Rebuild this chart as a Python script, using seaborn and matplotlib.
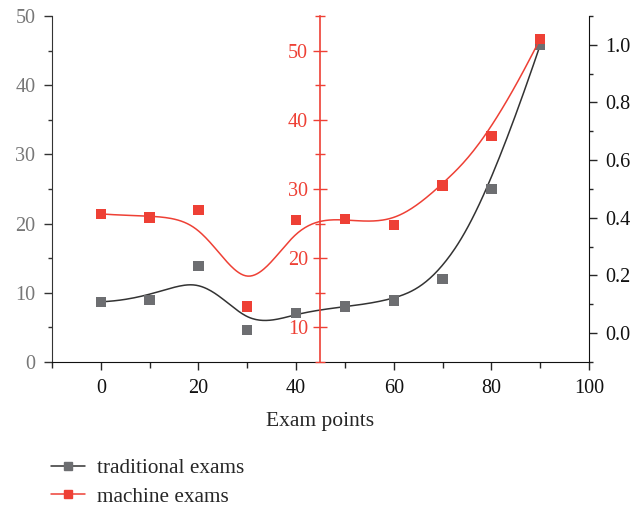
import numpy as np
import pandas as pd
import matplotlib
matplotlib.use("Agg")
import matplotlib.pyplot as plt
from matplotlib.lines import Line2D
from matplotlib.ticker import MultipleLocator, FormatStrFormatter
import seaborn as sns

# values
exam_points = [0, 10, 20, 30, 40, 50, 60, 70, 80, 90]
traditional = [8.7, 9.0, 13.9, 4.6, 7.1, 8.0, 8.9, 12.0, 25.0, 45.8]
machine = [26.4, 25.9, 27.0, 13.0, 25.5, 25.7, 24.8, 30.5, 37.7, 51.7]

GRAY = "#6d6e71"
GRAY_LINE = "#333333"
RED = "#ee4035"


def bspline(xs, ys, n=300):
    # clamped uniform cubic B-spline with the data as control points
    p = np.column_stack([xs, ys]).astype(float)
    m = len(p)
    knots = np.concatenate([[0] * 4, np.arange(1, m - 3), [m - 3] * 4]).astype(float)

    def basis(i, k, t):
        if k == 0:
            if knots[i] <= t < knots[i + 1] or (t == knots[-1] and knots[i] < t <= knots[i + 1]):
                return 1.0
            return 0.0
        a = 0.0
        d1 = knots[i + k] - knots[i]
        if d1 > 0:
            a += (t - knots[i]) / d1 * basis(i, k - 1, t)
        d2 = knots[i + k + 1] - knots[i + 1]
        if d2 > 0:
            a += (knots[i + k + 1] - t) / d2 * basis(i + 1, k - 1, t)
        return a

    ts = np.linspace(0, m - 3, n)
    out = np.array([sum(basis(i, 3, t) * p[i] for i in range(m)) for t in ts])
    return out[:, 0], out[:, 1]


sns.set_style("ticks")
plt.rcParams["font.family"] = ["Liberation Serif", "DejaVu Serif"]

fig = plt.figure(figsize=(6.44, 5.09), dpi=100)
ax = fig.add_axes([0.0807, 0.2888, 0.8339, 0.6798])
ax_red = ax.twinx()
ax_right = ax.twinx()

# traditional exams on the left axis
tx, ty = bspline(exam_points, traditional)
sns.lineplot(x=tx, y=ty, ax=ax, color=GRAY_LINE, lw=1.1, sort=False)
sns.scatterplot(x=exam_points, y=traditional, ax=ax, marker="s", s=55, color=GRAY,
                edgecolor="none", zorder=5)

# machine exams on the floating red axis
mx, my = bspline(exam_points, machine)
sns.lineplot(x=mx, y=my, ax=ax_red, color=RED, lw=1.1, sort=False)
sns.scatterplot(x=exam_points, y=machine, ax=ax_red, marker="s", s=55, color=RED,
                edgecolor="none", zorder=5)

ax.set_xlim(-10, 100)
ax.set_ylim(0, 50)
ax_red.set_ylim(5, 55)
ax_right.set_ylim(-0.1, 1.1)

FS = 14.5

# left axis
ax.spines["top"].set_visible(False)
ax.spines["right"].set_visible(False)
ax.spines["left"].set_color("#333333")
ax.spines["bottom"].set_color("#111111")
ax.xaxis.set_major_locator(MultipleLocator(20))
ax.xaxis.set_minor_locator(MultipleLocator(10))
ax.yaxis.set_major_locator(MultipleLocator(10))
ax.yaxis.set_minor_locator(MultipleLocator(5))
ax.tick_params(axis="y", which="major", length=6, width=1, color="#333333",
               labelcolor="#777777", labelsize=FS, pad=6)
ax.tick_params(axis="y", which="minor", length=3, width=1, color="#333333")
ax.tick_params(axis="x", which="major", length=6, width=1, labelsize=FS,
               labelcolor="#111111", pad=6)
ax.tick_params(axis="x", which="minor", length=4, width=1)
ax.set_xlabel("Exam points", fontsize=15.5, labelpad=10)
ax.set_ylabel("")

# red floating axis at x = 45
for s in ["top", "right", "bottom"]:
    ax_red.spines[s].set_visible(False)
ax_red.spines["left"].set_visible(True)
ax_red.spines["left"].set_position(("data", 45))
ax_red.spines["left"].set_color(RED)
ax_red.spines["left"].set_linewidth(1.2)
ax_red.yaxis.set_ticks_position("left")
ax_red.yaxis.set_label_position("left")
ax_red.yaxis.set_minor_locator(MultipleLocator(5))
ax_red.set_yticks([10, 20, 30, 40, 50])
ax_red.tick_params(axis="y", which="major", direction="inout", length=10, width=1,
                   color=RED, labelcolor=RED, labelsize=FS, pad=4)
ax_red.tick_params(axis="y", which="minor", direction="inout", length=7, width=1, color=RED)
ax_red.set_ylabel("")

# right axis
for s in ["top", "left", "bottom"]:
    ax_right.spines[s].set_visible(False)
ax_right.spines["right"].set_color("#111111")
ax_right.yaxis.set_major_locator(MultipleLocator(0.2))
ax_right.yaxis.set_minor_locator(MultipleLocator(0.1))
ax_right.yaxis.set_major_formatter(FormatStrFormatter("%.1f"))
ax_right.tick_params(axis="y", which="major", length=6, width=1, labelsize=FS,
                     labelcolor="#111111", pad=6)
ax_right.tick_params(axis="y", which="minor", length=3, width=1)

handles = [
    Line2D([], [], color=GRAY_LINE, lw=1.1, marker="s", markersize=6,
           markerfacecolor=GRAY, markeredgecolor=GRAY),
    Line2D([], [], color=RED, lw=1.1, marker="s", markersize=6,
           markerfacecolor=RED, markeredgecolor=RED),
]
fig.legend(handles, ["traditional exams", "machine exams"], loc="upper left",
           bbox_to_anchor=(0.05, 0.137), frameon=False, fontsize=15.3,
           handlelength=1.6, handletextpad=0.55, labelspacing=0.4)

fig.savefig("out.png", dpi=100)
